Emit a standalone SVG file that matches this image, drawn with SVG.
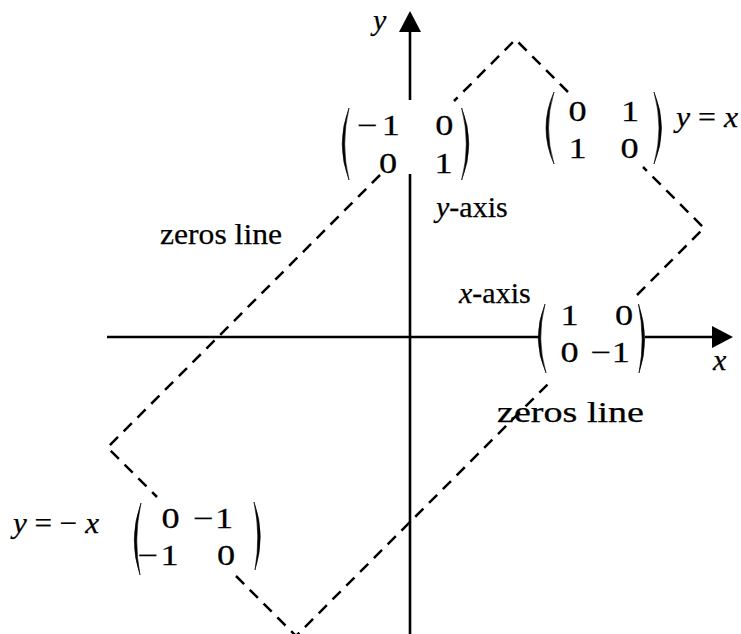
<svg xmlns="http://www.w3.org/2000/svg" width="741" height="634" viewBox="0 0 741 634">
<style>
.t{font-family:"Liberation Serif","Times New Roman",serif;font-size:30px;fill:#000;stroke:#000;stroke-width:0.25}
.m{font-family:"Liberation Serif","Times New Roman",serif;font-size:29px;fill:#000;stroke:#000;stroke-width:0.25;text-anchor:middle}
.i{font-style:italic}
.axis{stroke:#000;stroke-width:2.6;fill:none}
.dash{stroke:#000;stroke-width:2.5;fill:none;stroke-dasharray:11.5 8}
.par{fill:#000;stroke:#000;stroke-width:0.6}
</style>
<defs>
<marker id="arr" markerUnits="userSpaceOnUse" markerWidth="22" markerHeight="22" viewBox="0 0 22 22" refX="0" refY="11" orient="auto">
<path d="M0,0 L21,11 L0,22 Z" fill="#000"/>
</marker>
</defs>
<rect width="741" height="634" fill="#fff"/>
<g id="connectors">
<path class="axis" d="M410,634 L410,174"/>
<path class="axis" d="M410,100 L410,32" marker-end="url(#arr)"/>
<path class="axis" d="M107,337 L540,337"/>
<path class="axis" d="M645,337 L712,337" marker-end="url(#arr)"/>
<polyline class="dash" points="568,92 515.5,39.5 454,101"/>
<polyline class="dash" points="380,175 107.5,447.5 157,497"/>
<polyline class="dash" points="236,576 296,636 548,384"/>
<polyline class="dash" points="637,295 704,228 643,167"/>
</g>
<g id="label-y">
<text class="t i" x="373" y="30">y</text>
</g>
<g id="label-x">
<text class="t i" x="713" y="370">x</text>
</g>
<g id="matrix-yaxis">
<path class="par" d="M349,108 Q335.4,144 349,180 Q340.4,144 349,108 Z"/>
<path class="par" d="M461.7,108 Q475.9,144 461.7,180 Q470.9,144 461.7,108 Z"/>
<text class="m" transform="translate(367.2,135) scale(1.25,1)">−</text>
<text class="m" transform="translate(390.8,135) scale(1.25,1)">1</text>
<text class="m" transform="translate(444.3,135) scale(1.25,1)">0</text>
<text class="m" transform="translate(388,172.5) scale(1.25,1)">0</text>
<text class="m" transform="translate(443.5,172.5) scale(1.25,1)">1</text>
<text class="t" x="436" y="216.5"><tspan class="i">y</tspan>-axis</text>
</g>
<g id="matrix-yx">
<path class="par" d="M554,92 Q538,128 554,164 Q543,128 554,92 Z"/>
<path class="par" d="M654,92 Q669,128 654,164 Q664,128 654,92 Z"/>
<text class="m" transform="translate(577.5,121) scale(1.25,1)">0</text>
<text class="m" transform="translate(630,121) scale(1.25,1)">1</text>
<text class="m" transform="translate(577.5,158.3) scale(1.25,1)">1</text>
<text class="m" transform="translate(629.5,158.3) scale(1.25,1)">0</text>
<text class="t" x="676" y="127" textLength="62" lengthAdjust="spacingAndGlyphs"><tspan class="i">y</tspan> = <tspan class="i">x</tspan></text>
</g>
<g id="matrix-xaxis">
<path class="par" d="M545,304 Q531,339 546,373 Q536,339 545,304 Z"/>
<path class="par" d="M638.5,304 Q650.5,339 639,373 Q645.5,339 638.5,304 Z"/>
<text class="m" transform="translate(569.5,325) scale(1.25,1)">1</text>
<text class="m" transform="translate(624,325) scale(1.25,1)">0</text>
<text class="m" transform="translate(569.5,361.7) scale(1.25,1)">0</text>
<text class="m" transform="translate(600.8,361.7) scale(1.25,1)">−</text>
<text class="m" transform="translate(620.8,361.7) scale(1.25,1)">1</text>
<text class="t" x="459" y="303.3"><tspan class="i">x</tspan>-axis</text>
</g>
<g id="matrix-ynegx">
<path class="par" d="M141,503 Q128,539 140,575 Q133,539 141,503 Z"/>
<path class="par" d="M254,502 Q266,535 255,570 Q261,535 254,502 Z"/>
<text class="m" transform="translate(170.5,528.3) scale(1.25,1)">0</text>
<text class="m" transform="translate(203.3,528.3) scale(1.25,1)">−</text>
<text class="m" transform="translate(224,528.3) scale(1.25,1)">1</text>
<text class="m" transform="translate(147.7,565) scale(1.25,1)">−</text>
<text class="m" transform="translate(169.5,565) scale(1.25,1)">1</text>
<text class="m" transform="translate(226,565) scale(1.25,1)">0</text>
<text class="t" x="13" y="533" textLength="86" lengthAdjust="spacingAndGlyphs"><tspan class="i">y</tspan> = − <tspan class="i">x</tspan></text>
</g>
<g id="label-zeros-upper">
<text class="t" x="160" y="244" font-size="28" textLength="122" lengthAdjust="spacingAndGlyphs">zeros line</text>
</g>
<g id="label-zeros-lower">
<text class="t" x="497" y="422" font-size="28" textLength="147" lengthAdjust="spacingAndGlyphs">zeros line</text>
</g>
</svg>
